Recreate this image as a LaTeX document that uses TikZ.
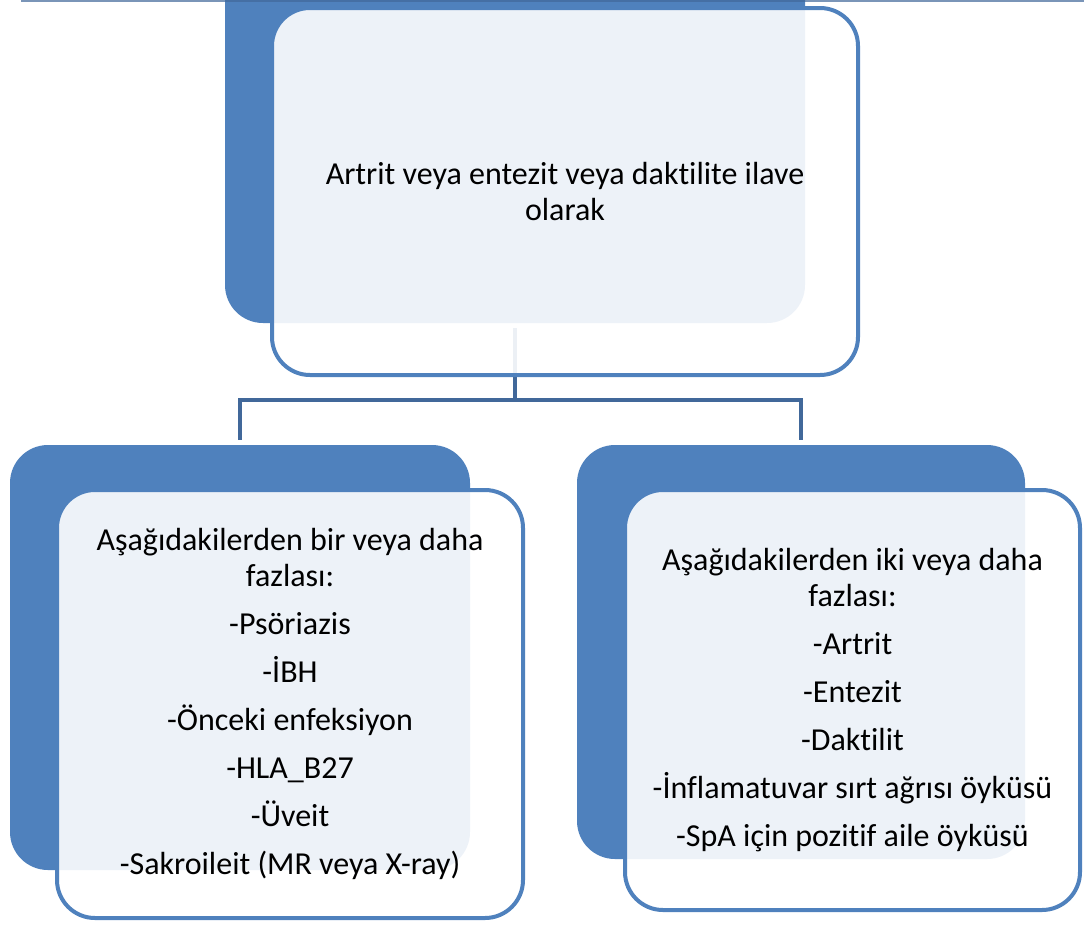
\documentclass[tikz,border=0pt]{standalone}
\usepackage{fontspec}
\setmainfont{Carlito}[Ligatures=NoCommon]
\usetikzlibrary{positioning}
\definecolor{boxblue}{RGB}{79,129,189}
\definecolor{linkblue}{RGB}{65,104,154}

\begin{document}
\begin{tikzpicture}[
      x=1pt, y=-1pt,
      every node/.style={font=\fontsize{32}{35.5}\selectfont},
      backbox/.style={fill=boxblue, rounded corners=38pt, inner sep=0pt},
      frontbox/.style={draw=boxblue, line width=4pt, fill=white, fill opacity=0.9, text opacity=1, rounded corners=38pt, align=center, inner sep=0pt},
      link/.style={draw=linkblue, line width=4.5pt}
  ]
    \useasboundingbox (0,0) rectangle (1084,924);
    \clip (0,0) rectangle (1084,924);
    % top box
    \node[backbox, minimum width=580pt, minimum height=363pt] (topback) at (515,141.5) {};
    \coordinate (fork) at (515,400);
    \draw[link, shorten <=5pt] (topback.south) -- (fork);
    \node[frontbox, minimum width=586pt, minimum height=367pt] (topfront) at (565,191.5)
      {Artrit veya entezit veya daktilite ilave\\[0.5pt] olarak};
    % left box
    \node[backbox, minimum width=460pt, minimum height=425pt] (leftback) at (240,657.5) {};
    \node[frontbox, minimum width=466pt, minimum height=428pt] (leftfront) at (290,704)
      {Aşağıdakilerden bir veya daha\\ fazlası:\\[12.5pt] -Psöriazis\\[12.5pt] -İBH\\[12.5pt] -Önceki enfeksiyon\\[12.5pt] -HLA\_B27\\[12.5pt] -Üveit\\[12.5pt] -Sakroileit (MR veya X-ray)};
    % right box
    \node[backbox, minimum width=448pt, minimum height=414pt] (rightback) at (801,652) {};
    \node[frontbox, minimum width=455pt, minimum height=420pt] (rightfront) at (852.5,700)
      {Aşağıdakilerden iki veya daha\\ fazlası:\\[12.5pt] -Artrit\\[12.5pt] -Entezit\\[12.5pt] -Daktilit\\[12.5pt] -İnflamatuvar sırt ağrısı öyküsü\\[12.5pt] -SpA için pozitif aile öyküsü};
    \draw[link, shorten <=5pt, shorten >=5pt] (leftback.north) |- (fork) -| (rightback.north);
    \draw[linkblue, opacity=0.7, line width=2.5pt] (21,1) -- (1084,1);
  \end{tikzpicture}
\end{document}
